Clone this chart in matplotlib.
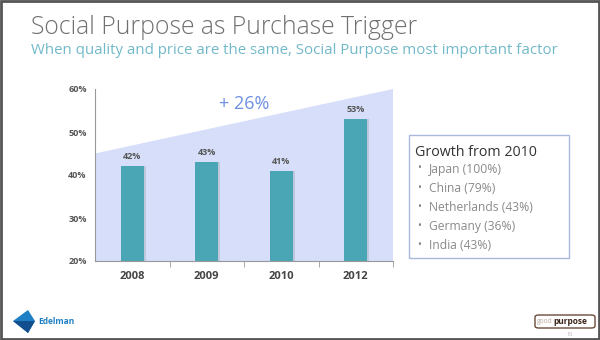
import matplotlib.pyplot as plt
from matplotlib.patches import Rectangle, Polygon, FancyBboxPatch

years = ["2008", "2009", "2010", "2012"]
share = [42, 43, 41, 53]
trend_start, trend_end = 45, 60
growth_label = "+ 26%"
box_title = "Growth from 2010"
countries = ["Japan (100%)", "China (79%)", "Netherlands (43%)", "Germany (36%)", "India (43%)"]

plt.rcParams['font.family'] = ['Open Sans', 'DejaVu Sans']

W, H = 600, 340
fig = plt.figure(figsize=(W / 100, H / 100), dpi=100)
fig.patch.set_facecolor("white")


def fx(px):
    return px / W


def fy(py):
    return 1 - py / H


# slide border
fig.add_artist(Rectangle((0.001, 0.002), 0.997, 0.995, transform=fig.transFigure,
                         fill=False, edgecolor="#555555", linewidth=2))

fig.text(fx(31), fy(27), "Social Purpose as Purchase Trigger", fontsize=17.8,
         fontweight="light", color="#707070", va="center", ha="left")
fig.text(fx(31), fy(50), "When quality and price are the same, Social Purpose most important factor",
         fontsize=10.8, color="#72b9c9", va="center", ha="left")

ax = fig.add_axes([fx(95), fy(261), fx(393) - fx(95), fy(89) - fy(261)])
x = list(range(len(years)))
ax.add_patch(Polygon([(-0.5, 20), (-0.5, trend_start), (3.5, trend_end), (3.5, 20)],
                     closed=True, facecolor="#d6def9", edgecolor="none", zorder=0))
# soft shadow on bars
ax.bar([i + 0.025 for i in x], [v - 20 for v in share], bottom=20, width=0.31,
       color="#a3adb8", alpha=0.45, zorder=1)
ax.bar(x, [v - 20 for v in share], bottom=20, width=0.31, color="#4aa5b5", zorder=2)
for i, v in zip(x, share):
    ax.text(i, v + 1.2, f"{v}%", ha="center", va="bottom", fontsize=6.5,
            fontweight="bold", color="#555555")
ax.text(1.5, 56.6, growth_label, ha="center", va="center", fontsize=13, color="#6f8fe3")

ax.set_xlim(-0.5, 3.5)
ax.set_ylim(20, 60)
ax.set_yticks([20, 30, 40, 50, 60])
ax.set_yticklabels([f"{t}%" for t in [20, 30, 40, 50, 60]], fontsize=6.5,
                   fontweight="bold", color="#555555")
ax.set_xticks(x)
ax.set_xticklabels(years, fontsize=8, fontweight="bold", color="#444444")
ax.set_xticks([0.5, 1.5, 2.5, 3.5], minor=True)
ax.tick_params(axis="x", which="major", length=0, pad=7)
ax.tick_params(axis="x", which="minor", length=4, color="#999999", direction="out")
ax.tick_params(axis="y", length=0, pad=6)
for s in ["top", "right"]:
    ax.spines[s].set_visible(False)
ax.spines["left"].set_color("#999999")
ax.spines["bottom"].set_color("#999999")
ax.set_facecolor("none")

# side text box
fig.add_artist(Rectangle((fx(409), fy(258)), fx(569) - fx(409), fy(135) - fy(258),
                         transform=fig.transFigure, fill=False, edgecolor="#a9b9dc", linewidth=1))
fig.text(fx(415), fy(152), box_title, fontsize=10.3, color="#333333", va="center", ha="left")
for k, c in enumerate(countries):
    yy = fy(169 + k * 19.2)
    fig.text(fx(417), yy, "•", fontsize=7.5, color="#808080", va="center", ha="left")
    fig.text(fx(429), yy, c, fontsize=8.7, color="#8a8a8a", va="center", ha="left")

# Edelman logo
fig.add_artist(Polygon([(fx(13), fy(321)), (fx(28), fy(310)), (fx(35), fy(321)), (fx(28), fy(333))],
                       closed=True, transform=fig.transFigure, facecolor="#1f7fc4", edgecolor="none"))
fig.add_artist(Polygon([(fx(13), fy(321)), (fx(35), fy(321)), (fx(28), fy(333))],
                       closed=True, transform=fig.transFigure, facecolor="#124f8e", edgecolor="none"))
fig.text(fx(38), fy(322), "Edelman", fontsize=6, fontweight="bold", color="#1f7fc4",
         va="center", ha="left")

# goodpurpose logo
fig.add_artist(FancyBboxPatch((fx(535), fy(328)), fx(595) - fx(535), fy(315) - fy(328),
                              boxstyle="round,pad=0,rounding_size=0.006",
                              transform=fig.transFigure, fill=False, edgecolor="#6b4a3a", linewidth=1))
fig.text(fx(553), fy(321.5), "good", fontsize=4.8, color="#b8a89c", va="center", ha="right")
fig.text(fx(553), fy(321.5), "purpose", fontsize=6, fontweight="bold", color="#3b2418",
         va="center", ha="left")
fig.text(fx(570), fy(334), "10", fontsize=4, color="#bbbbbb", va="center", ha="center")

fig.savefig("out.png", dpi=100)
